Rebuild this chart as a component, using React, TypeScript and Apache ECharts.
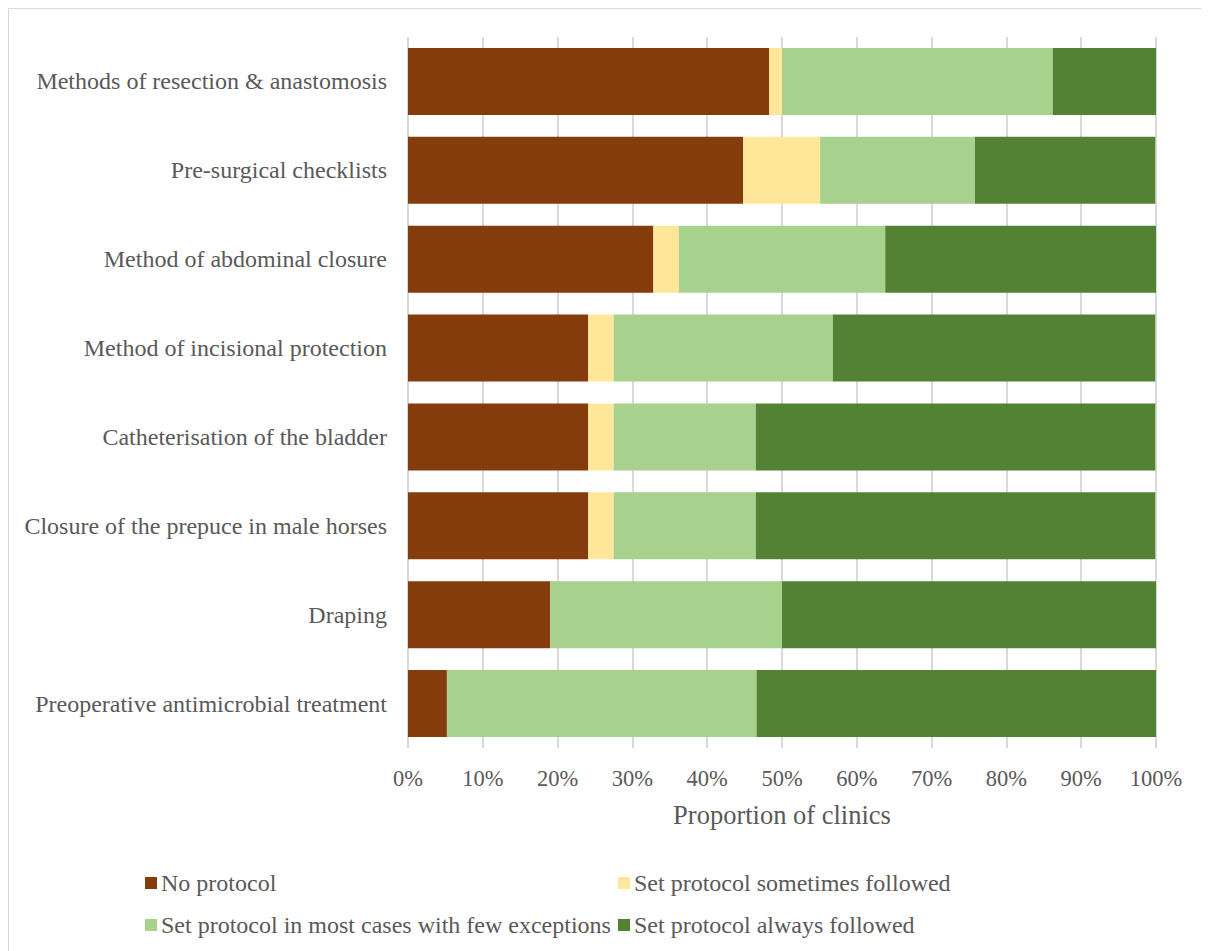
import React, { useEffect, useRef } from "react";
import * as echarts from "echarts";

// Survey items, listed top to bottom
const categories = [
  "Methods of resection & anastomosis",
  "Pre-surgical checklists",
  "Method of abdominal closure",
  "Method of incisional protection",
  "Catheterisation of the bladder",
  "Closure of the prepuce in male horses",
  "Draping",
  "Preoperative antimicrobial treatment",
];

// Share of clinics (%) per response
const noProtocol = [48.3, 44.8, 32.8, 24.1, 24.1, 24.1, 19.0, 5.2];
const sometimesFollowed = [1.7, 10.3, 3.4, 3.4, 3.4, 3.4, 0, 0];
const mostCases = [36.2, 20.7, 27.6, 29.3, 19.0, 19.0, 31.0, 41.4];
const alwaysFollowed = [13.8, 24.1, 36.2, 43.1, 53.4, 53.4, 50.0, 53.4];

const seriesNames = [
  "No protocol",
  "Set protocol sometimes followed",
  "Set protocol in most cases with few exceptions",
  "Set protocol always followed",
];
const seriesColors = ["#843C0C", "#FFE699", "#A9D18E", "#548235"];
const seriesData = [noProtocol, sometimesFollowed, mostCases, alwaysFollowed];

const xTicks = [0, 10, 20, 30, 40, 50, 60, 70, 80, 90, 100];

const FONT = "Times New Roman, Liberation Serif, DejaVu Serif, serif";
const TEXT = "#595959";

export default function App() {
  const ref = useRef<HTMLDivElement>(null);

  useEffect(() => {
    if (!ref.current) return;
    const chart = echarts.init(ref.current, null, { renderer: "svg" });

    const legendPos = [
      { left: 136, top: 862 },
      { left: 609, top: 862 },
      { left: 136, top: 904 },
      { left: 609, top: 904 },
    ];

    chart.setOption({
      animation: false,
      textStyle: { fontFamily: FONT, color: TEXT },
      grid: { left: 399, width: 748, top: 28, height: 711, containLabel: false },
      xAxis: {
        type: "value",
        min: xTicks[0],
        max: xTicks[xTicks.length - 1],
        interval: 10,
        name: "Proportion of clinics",
        nameLocation: "middle",
        nameGap: 53,
        nameTextStyle: { fontFamily: FONT, color: TEXT, fontSize: 26.5 },
        axisLine: { show: false },
        axisTick: { show: false },
        splitLine: { show: true, lineStyle: { color: "#d9d9d9", width: 2 } },
        axisLabel: {
          formatter: "{value}%",
          fontFamily: FONT,
          color: TEXT,
          fontSize: 22.5,
          margin: 19,
        },
      },
      yAxis: {
        type: "category",
        data: categories,
        inverse: true,
        axisLine: { show: false },
        axisTick: { show: false },
        axisLabel: { fontFamily: FONT, color: TEXT, fontSize: 24, margin: 21 },
      },
      legend: seriesNames.map((name, i) => ({
        data: [name],
        left: legendPos[i].left,
        top: legendPos[i].top,
        orient: "horizontal",
        icon: "rect",
        itemWidth: 12,
        itemHeight: 12,
        itemGap: 0,
        padding: 0,
        selectedMode: false,
        textStyle: { fontFamily: FONT, color: TEXT, fontSize: 24, padding: [0, 0, 0, -1] },
      })),
      series: seriesNames.map((name, i) => ({
        name,
        type: "bar",
        stack: "total",
        barWidth: 67,
        data: seriesData[i],
        itemStyle: { color: seriesColors[i] },
        emphasis: { disabled: true },
      })),
    });

    return () => chart.dispose();
  }, []);

  return (
    <div
      style={{
        width: 1201,
        height: 943,
        borderTop: "1px solid #d9d9d9",
        borderLeft: "1px solid #d9d9d9",
        boxSizing: "border-box",
        position: "relative",
        background: "#fff",
      }}
    >
      <div ref={ref} style={{ position: "absolute", left: 0, top: 0, width: 1200, height: 942 }} />
    </div>
  );
}
